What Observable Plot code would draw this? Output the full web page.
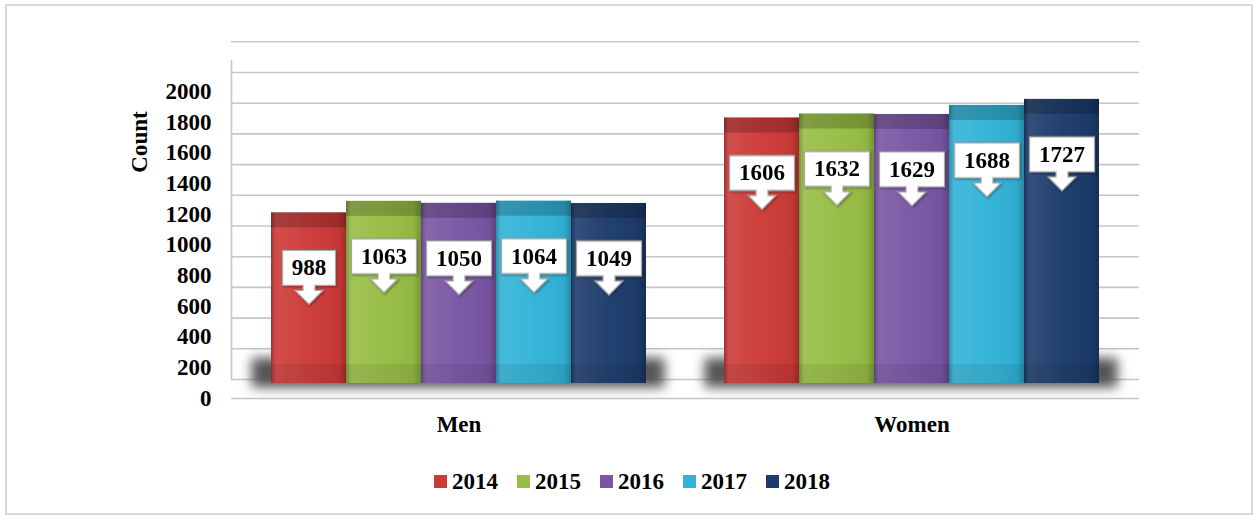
<!DOCTYPE html>
<html>
<head>
<meta charset="utf-8">
<script src="https://cdn.jsdelivr.net/npm/d3@7"></script>
<script src="https://cdn.jsdelivr.net/npm/@observablehq/plot@0.6"></script>
<style>
  html, body { margin: 0; padding: 0; background: #ffffff; }
  #wrap { position: relative; width: 1257px; height: 521px; overflow: hidden; font-family: "Liberation Serif", "Times New Roman", serif; }
  #border { position: absolute; left: 5px; top: 4px; width: 1248px; height: 511px; border: 2px solid #d9d9d9; box-sizing: border-box; }
  .layer { position: absolute; left: 0; top: 0; }
  #legend { position: absolute; left: 0; top: 465px; width: 1257px; }
  #legend .lg-swatches-wrap { justify-content: center !important; margin: 0 !important; min-height: 33px; padding-left: 26px; }
  #legend .lg-swatch { margin-right: 19px !important; }
  #legend .lg-swatch > svg { margin-right: 5px !important; }
</style>
</head>
<body>
<div id="wrap">
  <div id="border"></div>
  <div id="axisLayer" class="layer"></div>
  <div id="barLayer" class="layer"></div>
  <div id="legend"></div>
</div>
<script>
// ---------- data ----------
const groups = ["Men", "Women"];
const years = ["2014", "2015", "2016", "2017", "2018"];
const menCounts = [988, 1063, 1050, 1064, 1049];
const womenCounts = [1606, 1632, 1629, 1688, 1727];
const yTicks = [0, 200, 400, 600, 800, 1000, 1200, 1400, 1600, 1800, 2000];
const gridValues = [0, 200, 400, 600, 800, 1000, 1200, 1400, 1600, 1800, 2000, 2200];
const yearColors = ["#cc3a37", "#97bd44", "#7a55a4", "#31b3d7", "#1c3b6b"];
const axisTitle = "Count";

const data = [];
groups.forEach((g, gi) => {
  const vals = gi === 0 ? menCounts : womenCounts;
  years.forEach((y, i) => data.push({group: g, year: y, value: vals[i]}));
});

const FONT = "Liberation Serif, Times New Roman, serif";
const W = 1257, H = 521;
const common = {
  width: W, height: H,
  marginTop: 60.3, marginBottom: 123,
  y: {domain: [0, 2200], axis: null}
};
const svgStyle = {fontFamily: FONT, fontWeight: "bold", fontSize: "23px", color: "#000", background: "transparent", overflow: "visible"};

// ---------- layer A: walls, gridlines, y axis ----------
const axisChart = Plot.plot({
  ...common,
  marginLeft: 231, marginRight: 118,
  style: svgStyle,
  x: {domain: [0, 1], axis: null},
  marks: [
    Plot.ruleY(gridValues, {dy: -19, stroke: "#c6c6c6", strokeWidth: 1.6}),
    Plot.ruleY([0], {stroke: "#c6c6c6", strokeWidth: 1.6}),
    Plot.ruleX([0], {y1: 0, y2: 2200, insetTop: -19, stroke: "#c6c6c6", strokeWidth: 1.6}),
    Plot.axisY({ticks: yTicks, tickSize: 0, tickPadding: 20, tickFormat: d => String(d),
      fontSize: 23, fontWeight: "bold", fill: "#000", label: null}),
    Plot.text([axisTitle], {text: d => d, frameAnchor: "left", rotate: -90, dx: -92, dy: -57,
      fontSize: 23, fontWeight: "bold", fill: "#000"})
  ]
});
document.getElementById("axisLayer").appendChild(axisChart);

// ---------- layer B: bars, callouts, group labels ----------
function callout(w) {
  return {
    draw(ctx) {
      const h = 17.5;
      ctx.moveTo(-w / 2, -h);
      ctx.lineTo(w / 2, -h);
      ctx.lineTo(w / 2, h);
      ctx.lineTo(6, h);
      ctx.lineTo(6, h + 5);
      ctx.lineTo(14, h + 5);
      ctx.lineTo(0, h + 19);
      ctx.lineTo(-14, h + 5);
      ctx.lineTo(-6, h + 5);
      ctx.lineTo(-6, h);
      ctx.lineTo(-w / 2, h);
      ctx.closePath();
    }
  };
}
const LIFT = -34;       // 3-D offset of bar tops above the axis scale
const LABEL_DY = 55;    // callout centre below bar top

const barChart = Plot.plot({
  ...common,
  marginLeft: 270, marginRight: 157,
  style: svgStyle,
  fx: {domain: groups, paddingInner: 0.1678, paddingOuter: 0, label: null},
  x: {domain: years, padding: 0, axis: null},
  color: {domain: years, range: yearColors},
  marks: [
    // floor shadow
    Plot.frame({fill: "#555555", stroke: "none", insetTop: 297, insetBottom: 11, insetLeft: -19, insetRight: -17}),
    // bars
    Plot.barY(data, {fx: "group", x: "year", y: "value", fill: "year", dy: LIFT, insetBottom: -19}),
    Plot.barY(data, {fx: "group", x: "year", y: "value", fill: "url(#barShade)", dy: LIFT, insetBottom: -19}),
    // darker top face
    Plot.barY(data, {fx: "group", x: "year", y1: "value", y2: "value", fill: "#000", fillOpacity: 0.2, dy: LIFT, insetBottom: -15}),
    // darker floor strip
    Plot.barY(data, {fx: "group", x: "year", y1: 0, y2: 0, fill: "#000", fillOpacity: 0.07, dy: LIFT, insetBottom: -19}),
    // callouts
    Plot.dot(data.filter(d => String(d.value).length < 4), {fx: "group", x: "year", y: "value", dy: LIFT + LABEL_DY,
      symbol: callout(53), fill: "#fff", stroke: "#a8a8a8", strokeWidth: 1.3}),
    Plot.dot(data.filter(d => String(d.value).length >= 4), {fx: "group", x: "year", y: "value", dy: LIFT + LABEL_DY,
      symbol: callout(65), fill: "#fff", stroke: "#a8a8a8", strokeWidth: 1.3}),
    Plot.text(data, {fx: "group", x: "year", y: "value", text: d => String(d.value), dy: LIFT + LABEL_DY,
      fontSize: 23, fontWeight: "bold", fill: "#000"}),
    Plot.axisFx({anchor: "bottom", tickSize: 0, tickPadding: 17, fontSize: 23, fontWeight: "bold", fill: "#000", label: null})
  ]
});
const bsel = d3.select(barChart);
bsel.insert("defs", ":first-child").html(`
  <linearGradient id="barShade" x1="0" x2="1" y1="0" y2="0">
    <stop offset="0%" stop-color="#000" stop-opacity="0.22"/>
    <stop offset="8%" stop-color="#fff" stop-opacity="0.10"/>
    <stop offset="50%" stop-color="#fff" stop-opacity="0.03"/>
    <stop offset="90%" stop-color="#000" stop-opacity="0.04"/>
    <stop offset="100%" stop-color="#000" stop-opacity="0.22"/>
  </linearGradient>`);
bsel.selectAll('g[aria-label="frame"]').style("filter", "blur(6px)");
bsel.selectAll('g[aria-label="dot"]').style("filter", "drop-shadow(1px 1px 1px rgba(0,0,0,0.35))");
document.getElementById("barLayer").appendChild(barChart);

// ---------- legend ----------
const legend = Plot.legend({
  color: {domain: years, range: yearColors},
  legend: "swatches", swatchSize: 13, className: "lg",
  style: {fontFamily: FONT, fontWeight: "bold", fontSize: "23px", color: "#000"}
});
document.getElementById("legend").appendChild(legend);
</script>
</body>
</html>
